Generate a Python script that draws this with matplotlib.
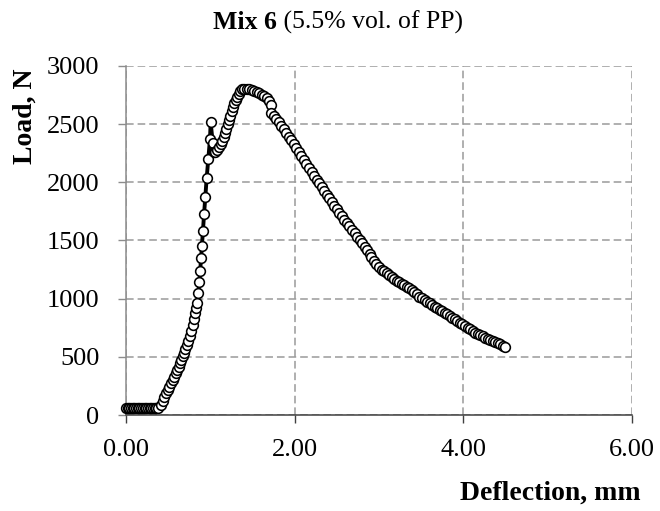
import matplotlib
matplotlib.use("Agg")
import matplotlib.pyplot as plt
from matplotlib.ticker import FixedLocator, FixedFormatter

# ---- data (deflection in mm, load in N) ----
flat_x = [0.00, 0.02, 0.04, 0.06, 0.08, 0.10, 0.12, 0.14, 0.16, 0.18, 0.20, 0.22,
          0.24, 0.26, 0.28, 0.30, 0.32, 0.34, 0.36, 0.38]
flat_y = [58, 58, 57, 58, 58, 57, 58, 58, 57, 58, 58, 57, 58, 58, 57, 58, 58, 57, 58, 60]

rise_x = [0.41, 0.435, 0.455, 0.474, 0.494, 0.514, 0.534, 0.553, 0.573, 0.593, 0.609,
          0.625, 0.640, 0.656, 0.672, 0.688, 0.704, 0.719, 0.739, 0.755, 0.775, 0.791,
          0.806, 0.822, 0.834, 0.846, 0.858, 0.870, 0.880, 0.890, 0.900, 0.912, 0.926,
          0.941, 0.957, 0.976, 0.996, 1.004, 1.028, 1.043, 1.060]
rise_y = [86, 123, 157, 186, 215, 243, 272, 301, 329, 358, 387,
          415, 444, 473, 507, 536, 565, 602, 639, 679, 725, 774,
          823, 874, 917, 960, 1046, 1141, 1241, 1347, 1450, 1580, 1730,
          1877, 2040, 2198, 2373, 2517, 2341, 2262, 2265]

peak_x = [1.075, 1.099, 1.123, 1.142, 1.158, 1.174, 1.190, 1.206, 1.221, 1.237, 1.253,
          1.269, 1.285, 1.300, 1.316, 1.336, 1.356, 1.380, 1.403, 1.431, 1.46, 1.49,
          1.52, 1.55, 1.58, 1.61, 1.64, 1.67, 1.70, 1.72, 1.725]
peak_y = [2278, 2301, 2330, 2358, 2393, 2427, 2462, 2499, 2536, 2573, 2611,
          2646, 2680, 2708, 2737, 2763, 2783, 2798, 2805, 2805, 2802, 2795,
          2786, 2776, 2766, 2754, 2740, 2722, 2695, 2668, 2600]

desc_x = [1.75, 1.78, 1.81, 1.84, 1.87, 1.90, 1.93, 1.96, 1.99, 2.02, 2.05, 2.08, 2.11,
          2.14, 2.17, 2.20, 2.23, 2.26, 2.29, 2.32, 2.35, 2.38, 2.41, 2.44, 2.47, 2.50,
          2.53, 2.56, 2.59, 2.62, 2.65, 2.68, 2.71, 2.74, 2.77, 2.80, 2.83, 2.86, 2.89,
          2.91, 2.94, 2.97, 3.00, 3.03, 3.06, 3.09, 3.12, 3.15, 3.18, 3.21, 3.24, 3.27,
          3.30, 3.33, 3.36, 3.39, 3.42, 3.45, 3.48, 3.51, 3.54, 3.57, 3.60, 3.63, 3.66,
          3.69, 3.72, 3.75, 3.78, 3.81, 3.84, 3.87, 3.90, 3.93, 3.96, 3.99, 4.02, 4.05,
          4.08, 4.11, 4.14, 4.17, 4.20, 4.23, 4.26, 4.29, 4.32, 4.35, 4.38, 4.41, 4.44,
          4.47, 4.49]
desc_y = [2571, 2543, 2515, 2486, 2456, 2425, 2393, 2360, 2326, 2292, 2258, 2224, 2190,
          2156, 2122, 2088, 2055, 2022, 1990, 1958, 1926, 1894, 1862, 1831, 1800, 1769,
          1739, 1709, 1679, 1650, 1621, 1592, 1563, 1534, 1505, 1476, 1446, 1416, 1385,
          1362, 1325, 1295, 1268, 1250, 1234, 1219, 1203, 1187, 1171, 1156, 1142, 1129,
          1116, 1103, 1088, 1072, 1055, 1037, 1018, 1002, 988, 974, 960, 946, 932,
          918, 904, 891, 878, 864, 850, 836, 822, 808, 794, 779, 764, 749,
          735, 721, 709, 698, 688, 677, 666, 655, 644, 634, 624, 616, 607,
          595, 582]

x_ticks = [0, 2, 4, 6]
x_tick_labels = ["0.00", "2.00", "4.00", "6.00"]
y_ticks = [0, 500, 1000, 1500, 2000, 2500, 3000]
y_tick_labels = ["0", "500", "1000", "1500", "2000", "2500", "3000"]

title_bold = "Mix 6"
title_rest = " (5.5% vol. of PP)"
x_label = "Deflection, mm"
y_label = "Load, N"

deflection = flat_x + rise_x + peak_x + desc_x
load = flat_y + rise_y + peak_y + desc_y

plt.rcParams["font.family"] = ["Liberation Serif", "DejaVu Serif"]

W, H = 660, 511
fig = plt.figure(figsize=(W / 100, H / 100), dpi=100)
ax = fig.add_axes([126 / W, 1 - 415 / H, (632 - 126) / W, (415 - 66) / H])

ax.plot(deflection, load, color="black", lw=2.8, marker="o", ms=7.0,
        mfc="white", mec="black", mew=1.15, zorder=3, clip_on=False)

ax.set_xlim(0, 6)
ax.set_ylim(0, 3000)
ax.xaxis.set_major_locator(FixedLocator(x_ticks))
ax.xaxis.set_major_formatter(FixedFormatter(x_tick_labels))
ax.yaxis.set_major_locator(FixedLocator(y_ticks))
ax.yaxis.set_major_formatter(FixedFormatter(y_tick_labels))

ax.grid(True, color="#9a9a9a", lw=1.1, linestyle=(0, (5, 2.6)), zorder=1)
ax.set_axisbelow(True)
for s in ("top", "right"):
    ax.spines[s].set_visible(False)
ax.spines["left"].set_color("#8c8c8c")
ax.spines["left"].set_linewidth(1.1)
ax.spines["bottom"].set_color("#404040")
ax.spines["bottom"].set_linewidth(1.1)

ax.tick_params(axis="y", direction="out", length=6, width=1.0, color="#8c8c8c",
               labelsize=19, pad=13)
ax.tick_params(axis="x", direction="out", length=6, width=1.0, color="#404040",
               labelsize=19, pad=11)

fig.text(277 / W, 1 - 29 / H, title_bold, ha="right", va="baseline",
         fontsize=18.5, fontweight="bold")
fig.text(277 / W, 1 - 29 / H, title_rest, ha="left", va="baseline", fontsize=18.5)

fig.text(641 / W, 1 - 500 / H, x_label, ha="right", va="baseline",
         fontsize=20, fontweight="bold")
fig.text(25 / W, 1 - 68 / H, y_label, ha="center", va="top", rotation=90,
         fontsize=20, fontweight="bold")

fig.savefig("out.png", dpi=100)
